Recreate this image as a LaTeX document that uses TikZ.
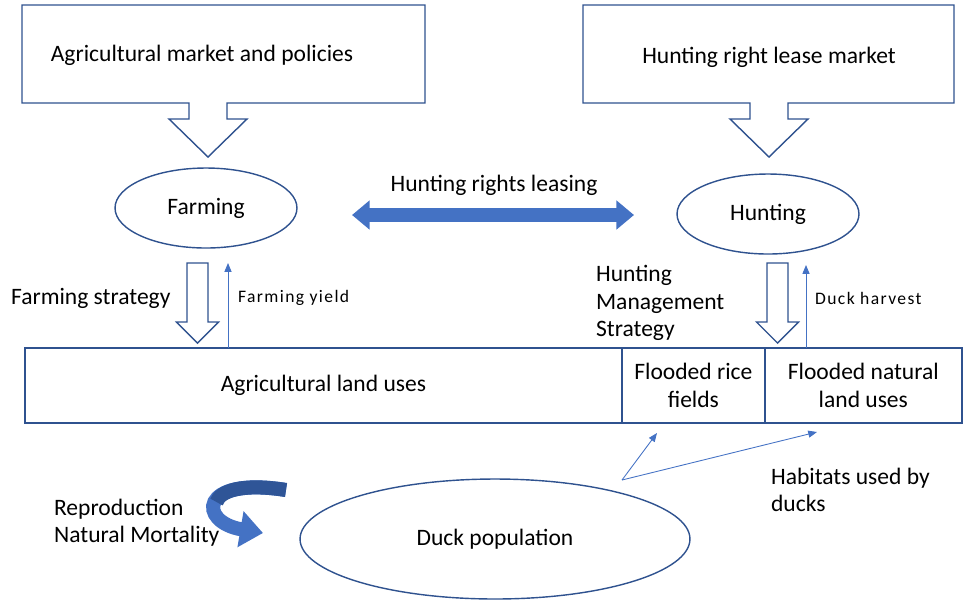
\documentclass[tikz,border=0pt]{standalone}
\usepackage{fontspec}
\setmainfont{Carlito}
\newfontfamily\spacedfont[LetterSpace=8]{Carlito}
\usetikzlibrary{arrows.meta,shapes.geometric}

\definecolor{lineblue}{HTML}{2F528F}
\definecolor{fillblue}{HTML}{4472C4}
\definecolor{darkblue}{HTML}{2F5597}

\tikzset{
    outline/.style={draw=lineblue, line width=0.8pt},
    label/.style={font=\fontsize{13.4}{15.5}\selectfont, inner sep=1pt},
    small label/.style={font=\fontsize{10}{12}\spacedfont, inner sep=1pt},
    oval/.style={ellipse, outline, fill=white, label, minimum width=3.64cm, minimum height=1.6cm},
    cell/.style={rectangle, outline, label, align=center, minimum height=1.5cm, outer sep=0pt, anchor=north west},
    thin arrow/.style={draw=fillblue, line width=0.5pt, -{Triangle[length=5pt,width=4pt]}},
    lease arrow/.style={draw=fillblue, line width=8pt, {Triangle[length=10pt,width=16pt]}-{Triangle[length=10pt,width=16pt]}},
    hollow down/.pic={
        \draw[outline, fill=white] (-10.5,0) -- (10.5,0) -- (10.5,59) -- (21,59) -- (0,80)
            -- (-21,59) -- (-10.5,59) -- cycle;
    },
}

\begin{document}
\begin{tikzpicture}[x=0.02cm, y=-0.02cm]
    \useasboundingbox (0,0) rectangle (963,600);

    % market callouts
    \draw[outline, fill=white] (22,5) -- (425,5) -- (425,103) -- (227,103) -- (227,119) -- (247,119)
        -- (208,157) -- (169,119) -- (189,119) -- (189,103) -- (22,103) -- cycle;
    \draw[outline, fill=white] (583,5) -- (954,5) -- (954,103) -- (788,103) -- (788,119) -- (808,119)
        -- (769,157) -- (730,119) -- (750,119) -- (750,103) -- (583,103) -- cycle;
    \node[label] (agmarket) at (202,55) {Agricultural market and policies};
    \node[label] (huntmarket) at (769,57) {Hunting right lease market};

    % actors
    \node[oval] (farming) at (206,208) {Farming};
    \node[oval] (hunting) at (768,214) {Hunting};
    \coordinate (leaseL) at (352,215);
    \coordinate (leaseR) at (634,215);
    \draw[lease arrow] (leaseL) -- (leaseR);
    \node[label] (leasing) at (494,185) {Hunting rights leasing};

    % strategies and returns
    \pic at (197.5,263) {hollow down};
    \pic at (777.5,263) {hollow down};
    \node[label, anchor=west] (farmstrat) at (9,298) {Farming strategy};
    \node[small label, anchor=west] (yield) at (236,298) {Farming yield};
    \node[label, anchor=west, align=left] (huntstrat) at (594,303) {Hunting\\Management\\Strategy};
    \node[small label, anchor=west] (harvest) at (813,298) {Duck harvest};

    % land uses
    \node[cell, minimum width=11.94cm] (agriland) at (25,348) {Agricultural land uses};
    \node[cell, minimum width=2.86cm] (rice) at (agriland.north east) {Flooded rice\\fields};
    \node[cell, minimum width=3.94cm] (natural) at (rice.north east) {Flooded natural\\land uses};

    \coordinate (yieldbase) at (228,348);
    \coordinate (yieldtop) at (228,263);
    \draw[thin arrow] (yieldbase) -- (yieldtop);
    \coordinate (harvestbase) at (806,348);
    \coordinate (harvesttop) at (806,265);
    \draw[thin arrow] (harvestbase) -- (harvesttop);

    % ducks
    \node[oval, minimum width=7.8cm, minimum height=2.4cm] (ducks) at (495,539) {Duck population};
    \coordinate (habitat) at (622,480);
    \coordinate (riceuse) at (657,433);
    \coordinate (naturaluse) at (817,432);
    \draw[thin arrow] (habitat) -- (riceuse);
    \draw[thin arrow] (habitat) -- (naturaluse);
    \node[label, anchor=west, align=left] (habitats) at (769,490) {Habitats used by\\ducks};

    \node[label, anchor=west, align=left] (popchange) at (52,523) {Reproduction\\Natural Mortality};
    \draw[draw=fillblue, line width=8pt, -{Triangle[length=13pt,width=20pt]}]
        (286,490) .. controls (198,476) and (198,522) .. (263,533);
    \draw[draw=darkblue, line width=8pt]
        (286,490) .. controls (242,483) and (220,491) .. (216.5,502);
\end{tikzpicture}
\end{document}
